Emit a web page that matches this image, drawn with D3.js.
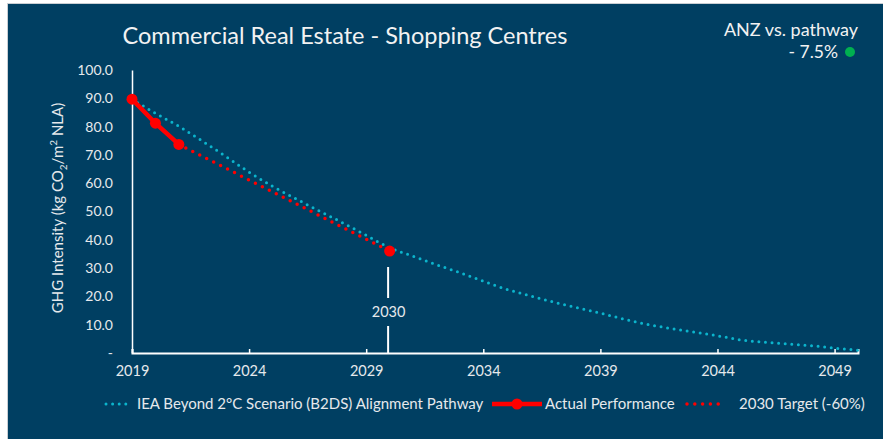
<!DOCTYPE html>
<meta charset="utf-8">
<html>
<head>
<style>
  body { margin: 0; background: #ffffff; }
  svg text { font-family: Lato, "Open Sans", sans-serif; }
</style>
</head>
<script src="https://d3js.org/d3.v7.min.js"></script>
<body>
<div id="vis"></div>

<script>
  // data
  var years = [2019, 2020, 2021, 2022, 2023, 2024, 2025, 2026, 2027, 2028, 2029, 2030,
               2031, 2032, 2033, 2034, 2035, 2036, 2037, 2038, 2039, 2040, 2041, 2042,
               2043, 2044, 2045, 2046, 2047, 2048, 2049, 2050];
  var pathwayValues = [89.7, 84.7, 80.1, 74.9, 69.5, 63.9, 58.9, 54.5, 50.2, 46.0, 41.6, 37.2,
                       34.2, 31.2, 28.4, 25.4, 22.5, 20.2, 18.0, 16.0, 14.1, 12.0, 10.1, 8.7,
                       7.4, 6.1, 4.6, 3.8, 3.2, 2.6, 1.7, 1.0];
  var actualYears = [2019, 2020, 2021];
  var actualValues = [89.7, 81.2, 73.7];
  var targetYears = [2021, 2030];
  var targetValues = [73.7, 36.0];
  var yTicks = [0, 10, 20, 30, 40, 50, 60, 70, 80, 90, 100];
  var xTicks = [2019, 2024, 2029, 2034, 2039, 2044, 2049];
  var legendLabels = ["IEA Beyond 2°C Scenario (B2DS) Alignment Pathway", "Actual Performance", "2030 Target (-60%)"];
  var chartTitle = "Commercial Real Estate - Shopping Centres";
  var gapLabel = "ANZ vs. pathway";
  var gapValue = "- 7.5%";
  var markerYear = 2030;

  var W = 883, H = 439;
  var bg = "#003f62", teal = "#0bb4cc", red = "#ff0000", txt = "#e6e9ec";

  var x = d3.scaleLinear().domain([2019, 2050]).range([132, 858]);
  var y = d3.scaleLinear().domain([0, 100]).range([353, 70]);

  var svg = d3.select("#vis").append("svg")
    .attr("width", W)
    .attr("height", H);

  // panel with thin grey edge on top/left
  svg.append("rect")
    .attr("x", 7.5).attr("y", 3.5)
    .attr("width", W).attr("height", H)
    .style("fill", bg)
    .style("stroke", "#c9ced3")
    .style("stroke-width", 1);

  svg.append("text")
    .attr("x", 345).attr("y", 44)
    .style("text-anchor", "middle")
    .style("font-size", "23.5px")
    .style("fill", "#f2f2f2")
    .text(chartTitle);

  svg.append("text")
    .attr("x", 858).attr("y", 36)
    .style("text-anchor", "end")
    .style("font-size", "18px")
    .style("fill", "#f2f2f2")
    .text(gapLabel);

  svg.append("text")
    .attr("x", 838).attr("y", 58)
    .style("text-anchor", "end")
    .style("font-size", "17.5px")
    .style("fill", "#f2f2f2")
    .text(gapValue);

  svg.append("circle")
    .attr("cx", 850).attr("cy", 52).attr("r", 5)
    .style("fill", "#00b050");

  // y axis title with sub/superscripts
  var yt = svg.append("text")
    .attr("transform", "translate(63,208) rotate(-90)")
    .style("text-anchor", "middle")
    .style("font-size", "15px")
    .style("fill", txt);
  yt.append("tspan").text("GHG Intensity (kg CO");
  yt.append("tspan").attr("dy", 4).style("font-size", "10px").text("2");
  yt.append("tspan").attr("dy", -4).text("/m");
  yt.append("tspan").attr("dy", -6).style("font-size", "10px").text("2");
  yt.append("tspan").attr("dy", 6).text(" NLA)");

  // y axis
  var yAxis = svg.append("g")
    .attr("transform", "translate(132,0)")
    .call(d3.axisLeft(y).tickValues(yTicks).tickSize(0).tickPadding(19)
      .tickFormat(function(d) { return d === 0 ? "-" : d3.format(".1f")(d); }));
  yAxis.select(".domain").style("stroke", "#ffffff").style("stroke-width", 1.5);
  yAxis.selectAll("text").style("font-size", "14px").style("fill", txt).style("font-family", "Lato");

  // x axis
  var xAxis = svg.append("g")
    .attr("transform", "translate(0,353)")
    .call(d3.axisBottom(x).tickValues(xTicks).tickSize(-4).tickPadding(13)
      .tickFormat(d3.format("d")));
  xAxis.select(".domain").style("stroke", "#ffffff").style("stroke-width", 2);
  xAxis.selectAll(".tick line").style("stroke", "#ffffff").style("stroke-width", 1.5);
  xAxis.selectAll("text").style("font-size", "14.5px").style("fill", txt).style("font-family", "Lato");

  // 2030 marker line with label
  svg.append("line")
    .attr("x1", x(markerYear) - 1.5).attr("x2", x(markerYear) - 1.5)
    .attr("y1", 267).attr("y2", 298)
    .style("stroke", "#ffffff").style("stroke-width", 2);
  svg.append("line")
    .attr("x1", x(markerYear) - 1.5).attr("x2", x(markerYear) - 1.5)
    .attr("y1", 326).attr("y2", 353)
    .style("stroke", "#ffffff").style("stroke-width", 2);
  svg.append("text")
    .attr("x", x(markerYear) - 1).attr("y", 317)
    .style("text-anchor", "middle")
    .style("font-size", "14.5px")
    .style("fill", txt)
    .text(markerYear);

  var line = d3.line()
    .x(function(d) { return x(d[0]); })
    .y(function(d) { return y(d[1]); });

  var pathway = years.map(function(d, i) { return [d, pathwayValues[i]]; });
  var actual = actualYears.map(function(d, i) { return [d, actualValues[i]]; });
  var target = targetYears.map(function(d, i) { return [d, targetValues[i]]; });

  svg.append("path")
    .datum(pathway)
    .attr("d", line.curve(d3.curveMonotoneX))
    .style("fill", "none")
    .style("stroke", teal)
    .style("stroke-width", 3)
    .style("stroke-linecap", "round")
    .style("stroke-dasharray", "0 6.6");

  svg.append("path")
    .datum(target)
    .attr("d", line.curve(d3.curveLinear))
    .style("fill", "none")
    .style("stroke", red)
    .style("stroke-width", 3.5)
    .style("stroke-linecap", "round")
    .style("stroke-dasharray", "0 7.8");

  svg.append("circle")
    .attr("cx", x(targetYears[1])).attr("cy", y(targetValues[1])).attr("r", 5.5)
    .style("fill", red);

  svg.append("path")
    .datum(actual)
    .attr("d", line)
    .style("fill", "none")
    .style("stroke", red)
    .style("stroke-width", 4.5);

  svg.selectAll(".actualDot")
    .data(actual)
    .enter().append("circle")
    .attr("class", "actualDot")
    .attr("cx", function(d) { return x(d[0]); })
    .attr("cy", function(d) { return y(d[1]); })
    .attr("r", 5.5)
    .style("fill", red);

  // legend
  var ly = 404;
  var leg = svg.append("g");
  leg.append("line")
    .attr("x1", 106).attr("x2", 128).attr("y1", ly).attr("y2", ly)
    .style("stroke", teal).style("stroke-width", 3)
    .style("stroke-linecap", "round").style("stroke-dasharray", "0 6.6");
  leg.append("text").attr("x", 137).attr("y", ly + 5)
    .style("font-size", "15px").style("fill", txt).text(legendLabels[0]);

  leg.append("line")
    .attr("x1", 492).attr("x2", 542).attr("y1", ly).attr("y2", ly)
    .style("stroke", red).style("stroke-width", 4.5);
  leg.append("circle").attr("cx", 517).attr("cy", ly).attr("r", 5.5).style("fill", red);
  leg.append("text").attr("x", 545).attr("y", ly + 5)
    .style("font-size", "15px").style("fill", txt).text(legendLabels[1]);

  leg.append("line")
    .attr("x1", 687).attr("x2", 726).attr("y1", ly).attr("y2", ly)
    .style("stroke", red).style("stroke-width", 3.5)
    .style("stroke-linecap", "round").style("stroke-dasharray", "0 7.8");
  leg.append("text").attr("x", 739).attr("y", ly + 5)
    .style("font-size", "15px").style("fill", txt).text(legendLabels[2]);
</script>
</body>
</html>
